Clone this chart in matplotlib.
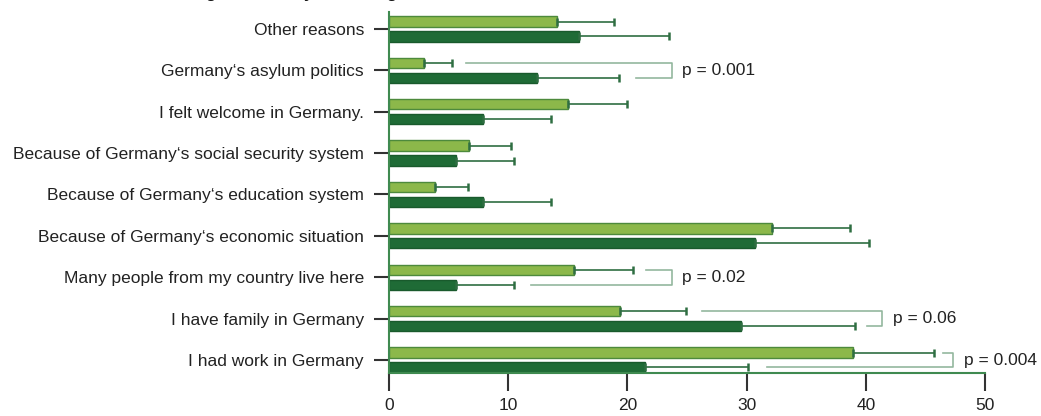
import numpy as np
import matplotlib.pyplot as plt

plt.rcParams['font.family'] = ['Liberation Sans', 'DejaVu Sans']

# categories listed bottom to top
reasons = ["I had work in Germany",
           "I have family in Germany",
           "Many people from my country live here",
           "Because of Germany\u2018s economic situation",
           "Because of Germany\u2018s education system",
           "Because of Germany\u2018s social security system",
           "I felt welcome in Germany.",
           "Germany\u2018s asylum politics",
           "Other reasons"]

light_vals = [38.9, 19.4, 15.5, 32.1, 3.9, 6.7, 15.0, 2.9, 14.1]
light_err = [6.8, 5.5, 5.0, 6.6, 2.7, 3.5, 5.0, 2.4, 4.8]
dark_vals = [21.5, 29.5, 5.6, 30.7, 7.9, 5.6, 7.9, 12.4, 15.9]
dark_err = [8.6, 9.6, 4.9, 9.6, 5.7, 4.9, 5.7, 6.9, 7.6]

# significance brackets: (row, x of light end, x of dark end, x of bracket, label)
brackets = [(0, 46.5, 31.7, 47.3, "p = 0.004"),
            (1, 26.3, 40.1, 41.4, "p = 0.06"),
            (2, 21.6, 11.9, 23.7, "p = 0.02"),
            (7, 6.5, 20.7, 23.7, "p = 0.001")]

title = "Reasons for coming to Germany according to sex"

light_c = '#8cb84a'
light_edge = '#4d8a3c'
dark_c = '#1f6b36'
dark_edge = '#195a2c'
err_c = '#2f6e42'
brk_c = '#93b79e'

fig = plt.figure(figsize=(10.41, 4.16), dpi=100)
ax = fig.add_axes([389 / 1041, 1 - 373 / 416, (985 - 389) / 1041, (373 - 12) / 416])

y = np.arange(len(reasons))
off = 0.18
h = 0.25

ax.barh(y + off, light_vals, height=h, color=light_c, edgecolor=light_edge, linewidth=1.0, zorder=2)
ax.barh(y - off, dark_vals, height=h, color=dark_c, edgecolor=dark_edge, linewidth=1.0, zorder=2)

zeros = np.zeros(len(reasons))
ax.errorbar(light_vals, y + off, xerr=[zeros, light_err], fmt='none', ecolor=err_c,
            elinewidth=1.2, capsize=3, capthick=1.8, zorder=3)
ax.errorbar(dark_vals, y - off, xerr=[zeros, dark_err], fmt='none', ecolor=err_c,
            elinewidth=1.2, capsize=3, capthick=1.8, zorder=3)

for row, xl, xd, xb, label in brackets:
    ax.plot([xl, xb, xb, xd], [row + off, row + off, row - off, row - off],
            color=brk_c, linewidth=1.2, zorder=1)
    ax.text(xb + 0.9, row, label, fontsize=12.5, va='center', ha='left', color='#222222',
            clip_on=False)

ax.set_xlim(0, 50)
ax.set_ylim(-0.314, 8.41)
ax.set_xticks([0, 10, 20, 30, 40, 50])
ax.set_yticks(y)
ax.set_yticklabels(reasons)

for side in ['top', 'right']:
    ax.spines[side].set_visible(False)
for side in ['left', 'bottom']:
    ax.spines[side].set_color('#3f8a50')
    ax.spines[side].set_linewidth(1.5)

ax.tick_params(axis='y', length=11, width=1.5, color='#333333', pad=7, labelsize=12.5,
               labelcolor='#222222')
ax.tick_params(axis='x', length=13, width=1.5, color='#333333', pad=5, labelsize=12.5,
               labelcolor='#222222')

# heading sits just above the top edge, only its descenders fall inside
head = fig.text(0, 1 + 2 / 416, title, fontsize=12, fontweight='bold',
                va='baseline', ha='left', color='#111111')
renderer = fig.canvas.get_renderer()
probe = fig.text(0, 0, title[:title.index("coming") + 5], fontsize=12, fontweight='bold')
prefix_w = probe.get_window_extent(renderer).width
probe.remove()
head.set_x((206 - prefix_w) / 1041)

fig.savefig('out.png', dpi=100)
